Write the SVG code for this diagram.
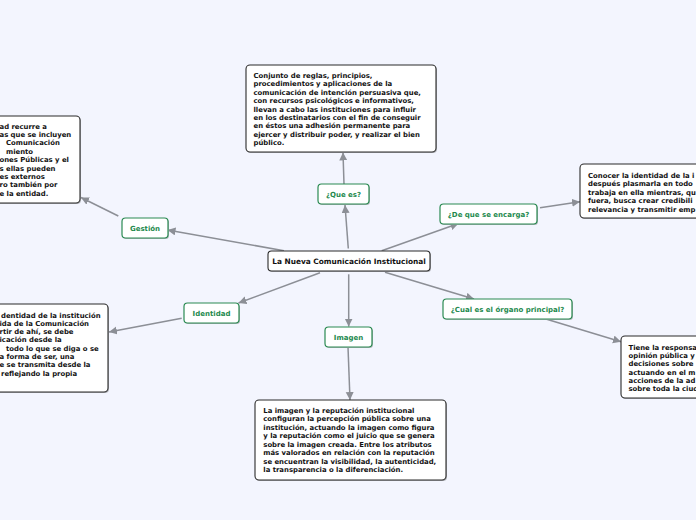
<svg xmlns="http://www.w3.org/2000/svg" width="696" height="520" viewBox="0 0 696 520">
<defs>
<marker id="arr" markerUnits="userSpaceOnUse" markerWidth="10" markerHeight="10" refX="8" refY="4" orient="auto">
<path d="M0,0 L8,4 L0,8 Z" fill="#8c8f96"/>
</marker>
</defs>
<style>
.bg{fill:#f3f5fe}
.con path{stroke:#8c8f96;stroke-width:1.5;fill:none;marker-end:url(#arr)}
.sh{fill:#b4b6bc}
.box{fill:#fff;stroke:#2a2a2a;stroke-width:1.1}
.gbox{fill:#fff;stroke:#2a8a52;stroke-width:1.2}
.t{font-family:"DejaVu Sans",Verdana,sans-serif;font-weight:bold;font-size:6.88px;fill:#111}
.g{font-family:"DejaVu Sans",Verdana,sans-serif;font-weight:bold;font-size:7px;fill:#23894d;text-anchor:middle}
.c{font-family:"DejaVu Sans",Verdana,sans-serif;font-weight:bold;font-size:7.4px;fill:#111;text-anchor:middle}
</style>
<rect class="bg" x="0" y="0" width="696" height="520"/>
<g class="con">
<path d="M348.3,248.5 L345,205"/>
<path d="M284,250.7 L167.5,230"/>
<path d="M320,272.7 L238.5,303"/>
<path d="M348.7,274.3 L348.7,326.5"/>
<path d="M381.7,250.7 L458.5,223.5"/>
<path d="M385,272.3 L474,299"/>
<path d="M118.3,216 L81,197.5"/>
<path d="M181.7,318.3 L109,332"/>
<path d="M344,184 L343,152.5"/>
<path d="M348,347 L350,400"/>
<path d="M540,207.7 L580,201.7"/>
<path d="M546.7,319.3 L621,341.7"/>
</g>
<g id="central">
<rect class="sh" x="269" y="252" width="162" height="20" rx="3.5"/>
<rect class="box" x="268" y="251" width="162" height="20" rx="3.5"/>
<text class="c" x="349" y="264">La Nueva Comunicación Institucional</text>
</g>
<g id="que-es">
<rect class="sh" x="319" y="185" width="51" height="20" rx="3.5"/>
<rect class="gbox" x="318" y="184" width="51" height="20" rx="3.5"/>
<text class="g" x="343.5" y="196.5">¿Que es?</text>
</g>
<g id="de-que">
<rect class="sh" x="441" y="205" width="97" height="20" rx="3.5"/>
<rect class="gbox" x="440" y="204" width="97" height="20" rx="3.5"/>
<text class="g" x="488.5" y="216.5">¿De que se encarga?</text>
</g>
<g id="gestion">
<rect class="sh" x="123" y="219" width="46" height="20" rx="3.5"/>
<rect class="gbox" x="122" y="218" width="46" height="20" rx="3.5"/>
<text class="g" x="145" y="230.5">Gestión</text>
</g>
<g id="identidad">
<rect class="sh" x="185" y="304" width="55" height="20" rx="3.5"/>
<rect class="gbox" x="184" y="303" width="55" height="20" rx="3.5"/>
<text class="g" x="211.5" y="315.5">Identidad</text>
</g>
<g id="imagen">
<rect class="sh" x="326" y="328" width="47" height="20" rx="3.5"/>
<rect class="gbox" x="325" y="327" width="47" height="20" rx="3.5"/>
<text class="g" x="348.5" y="339.5">Imagen</text>
</g>
<g id="cual">
<rect class="sh" x="444" y="300" width="129" height="20" rx="3.5"/>
<rect class="gbox" x="443" y="299" width="129" height="20" rx="3.5"/>
<text class="g" x="507.5" y="311.5">¿Cual es el órgano principal?</text>
</g>
<g id="box-que-es">
<rect class="sh" x="247" y="66" width="190" height="87" rx="4"/>
<rect class="box" x="246" y="65" width="190" height="87" rx="4"/>
<text class="t" x="253.5" y="78">Conjunto de reglas, principios,</text>
<text class="t" x="253.5" y="86.4">procedimientos y aplicaciones de la</text>
<text class="t" x="253.5" y="94.8">comunicación de intención persuasiva que,</text>
<text class="t" x="253.5" y="103.2">con recursos psicológicos e informativos,</text>
<text class="t" x="253.5" y="111.6">llevan a cabo las instituciones para influir</text>
<text class="t" x="253.5" y="120">en los destinatarios con el fin de conseguir</text>
<text class="t" x="253.5" y="128.4">en éstos una adhesión permanente para</text>
<text class="t" x="253.5" y="136.8">ejercer y distribuir poder, y realizar el bien</text>
<text class="t" x="253.5" y="145.2">público.</text>
</g>
<g id="box-imagen">
<rect class="sh" x="256" y="401" width="191" height="80" rx="4"/>
<rect class="box" x="255" y="400" width="191" height="80" rx="4"/>
<text class="t" x="263.3" y="413">La imagen y la reputación institucional</text>
<text class="t" x="263.3" y="421.45">configuran la percepción pública sobre una</text>
<text class="t" x="263.3" y="429.9">institución, actuando la imagen como figura</text>
<text class="t" x="263.3" y="438.35">y la reputación como el juicio que se genera</text>
<text class="t" x="263.3" y="446.8">sobre la imagen creada. Entre los atributos</text>
<text class="t" x="263.3" y="455.25">más valorados en relación con la reputación</text>
<text class="t" x="263.3" y="463.7">se encuentran la visibilidad, la autenticidad,</text>
<text class="t" x="263.3" y="472.15">la transparencia o la diferenciación.</text>
</g>
<g id="box-gestion">
<rect class="sh" x="-119" y="117" width="200" height="87" rx="4"/>
<rect class="box" x="-120" y="116" width="200" height="87" rx="4"/>
<text class="t" x="-0.5" y="128.5">ad recurre a</text>
<text class="t" x="-0.5" y="136.9">as que se incluyen</text>
<text class="t" x="6" y="145.3">Comunicación</text>
<text class="t" x="6" y="153.7">miento</text>
<text class="t" x="-0.5" y="162.1">ones Públicas y el</text>
<text class="t" x="-0.5" y="170.5">s ellas pueden</text>
<text class="t" x="-0.5" y="178.9">es externos</text>
<text class="t" x="-0.5" y="187.3">ro también por</text>
<text class="t" x="-0.5" y="195.7">e la entidad.</text>
</g>
<g id="box-identidad">
<rect class="sh" x="-91" y="305" width="200" height="88" rx="4"/>
<rect class="box" x="-92" y="304" width="200" height="88" rx="4"/>
<text class="t" x="1" y="317.5">dentidad de la institución</text>
<text class="t" x="-0.5" y="325.8">ida de la Comunicación</text>
<text class="t" x="-0.5" y="334.1">rtir de ahí, se debe</text>
<text class="t" x="-0.5" y="342.4">icación desde la</text>
<text class="t" x="6" y="350.7">todo lo que se diga o se</text>
<text class="t" x="-0.5" y="359">a forma de ser, una</text>
<text class="t" x="-0.5" y="367.3">e se transmita desde la</text>
<text class="t" x="1" y="375.6">reflejando la propia</text>
</g>
<g id="box-de-que">
<rect class="sh" x="581" y="165" width="200" height="54" rx="4"/>
<rect class="box" x="580" y="164" width="200" height="54" rx="4"/>
<text class="t" x="588" y="178">Conocer la identidad de la i</text>
<text class="t" x="588" y="186.4">después plasmarla en todo</text>
<text class="t" x="588" y="194.8">trabaja en ella mientras, qu</text>
<text class="t" x="588" y="203.2">fuera, busca crear credibili</text>
<text class="t" x="588" y="211.6">relevancia y transmitir emp</text>
</g>
<g id="box-cual">
<rect class="sh" x="622" y="337" width="200" height="62" rx="4"/>
<rect class="box" x="621" y="336" width="200" height="62" rx="4"/>
<text class="t" x="628.5" y="349.6">Tiene la responsa</text>
<text class="t" x="628.5" y="357.95">opinión pública y</text>
<text class="t" x="628.5" y="366.3">decisiones sobre</text>
<text class="t" x="628.5" y="374.65">actuando en el m</text>
<text class="t" x="628.5" y="383">acciones de la ad</text>
<text class="t" x="628.5" y="391.35">sobre toda la ciud</text>
</g>
</svg>
